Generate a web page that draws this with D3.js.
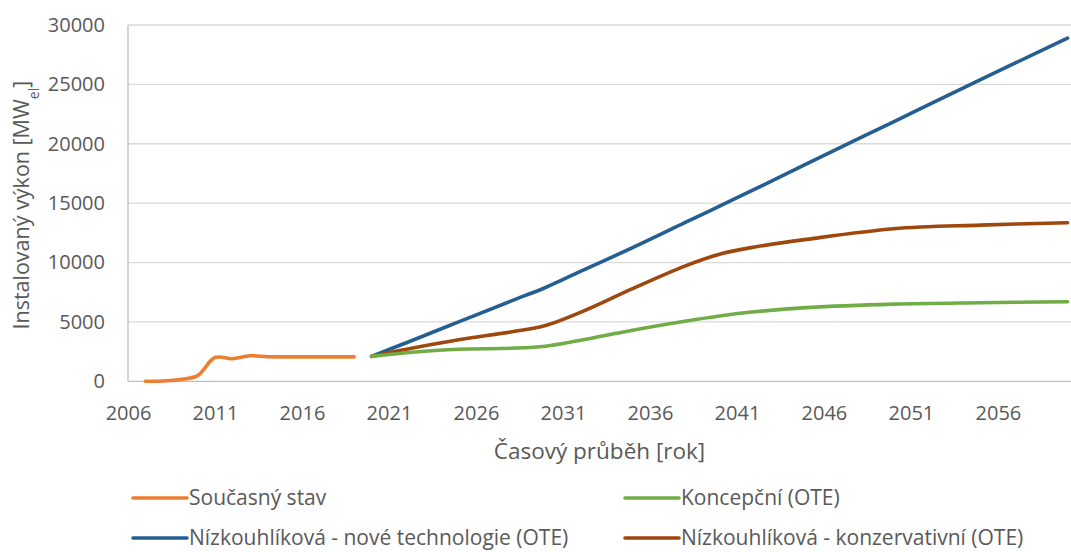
<!DOCTYPE html>
<html><head><meta charset="utf-8">
<script src="https://cdn.jsdelivr.net/npm/d3@7/dist/d3.min.js"></script>
<style>
body{margin:0;background:#fff;}
svg text{font-family:"Open Sans",Lato,sans-serif;fill:#595959;}
</style>
</head><body>
<svg id="chart" width="1071" height="552"></svg>
<script>
// ---- data ----
const histYears = [2007,2008,2009,2010,2011,2012,2013,2014,2015,2016,2017,2018,2019];
const histValues = [0,20,150,480,2000,1900,2150,2070,2060,2060,2060,2060,2060];

const scenYears = [2020,2022,2025,2028,2030,2032,2035,2038,2040,2042,2045,2050,2055,2060];
const newTechValues = [2100,3250,5000,6750,7900,9250,11250,13350,14750,16150,18300,21850,25400,28900];
const conservValues = [2100,2700,3500,4150,4700,5800,7800,9700,10700,11300,11950,12850,13150,13350];
const conceptValues = [2100,2400,2700,2780,2950,3450,4300,5050,5500,5850,6200,6500,6620,6700];

const xTickLabels = [2006,2011,2016,2021,2026,2031,2036,2041,2046,2051,2056];
const yTickValues = [0,5000,10000,15000,20000,25000,30000];

const seriesNames = ["Současný stav","Koncepční (OTE)","Nízkouhlíková - nové technologie (OTE)","Nízkouhlíková - konzervativní (OTE)"];
const seriesColors = ["#ED7D31","#70AD47","#255E91","#9E480E"];

const xTitle = "Časový průběh [rok]";
const yTitleMain = "Instalovaný výkon [MW";
const yTitleSub = "el";
const yTitleEnd = "]";

// ---- layout ----
const svg = d3.select("#chart");
const L = 128, R = 1071, T = 25, B = 381.3;
const x = d3.scaleLinear().domain([2006, 2060.2]).range([L, R]);
const y = d3.scaleLinear().domain([0, 30000]).range([B, T]);

// gridlines
svg.append("g").selectAll("line").data(yTickValues.filter(v => v > 0)).join("line")
  .attr("x1", L).attr("x2", R).attr("y1", d => y(d)).attr("y2", d => y(d))
  .attr("stroke", "#d9d9d9").attr("stroke-width", 1.3);

// axis lines
svg.append("line").attr("x1", L).attr("x2", L).attr("y1", T).attr("y2", B)
  .attr("stroke", "#bfbfbf").attr("stroke-width", 1.3);
svg.append("line").attr("x1", L).attr("x2", R).attr("y1", B).attr("y2", B)
  .attr("stroke", "#bfbfbf").attr("stroke-width", 1.3);

// y axis labels
const yAxis = d3.axisLeft(y).tickValues(yTickValues).tickSize(0).tickPadding(23).tickFormat(d3.format("d"));
const gy = svg.append("g").attr("transform", `translate(${L},0)`).call(yAxis);
gy.select(".domain").remove();
gy.selectAll("text").style("font-size", "20px").attr("font-family", null);

// x axis labels
const xAxis = d3.axisBottom(x).tickValues(xTickLabels).tickSize(0).tickPadding(0).tickFormat(d3.format("d"));
const gx = svg.append("g").attr("transform", `translate(0,${B})`).call(xAxis);
gx.select(".domain").remove();
gx.selectAll("text").style("font-size", "20px").attr("y", 39).attr("dy", 0).attr("font-family", null);

// titles
svg.append("text").attr("x", (L + R) / 2).attr("y", 459).attr("text-anchor", "middle")
  .style("font-size", "22.5px").text(xTitle);

const yt = svg.append("text").attr("transform", `translate(29,${(T + B) / 2 + 2}) rotate(-90)`)
  .attr("text-anchor", "middle").style("font-size", "21.5px");
yt.append("tspan").text(yTitleMain);
yt.append("tspan").attr("baseline-shift", "sub").style("font-size", "14px").text(yTitleSub);
yt.append("tspan").text(yTitleEnd);

// lines
const line = d3.line().x(d => x(d[0])).y(d => y(d[1])).curve(d3.curveCatmullRom.alpha(0.5));
const seriesData = [
  d3.zip(histYears, histValues),
  d3.zip(scenYears, conceptValues),
  d3.zip(scenYears, newTechValues),
  d3.zip(scenYears, conservValues)
];
const drawOrder = [0, 2, 3, 1];
drawOrder.forEach(i => {
  svg.append("path").datum(seriesData[i]).attr("d", line)
    .attr("fill", "none").attr("stroke", seriesColors[i]).attr("stroke-width", 3.6)
    .attr("stroke-linecap", "round").attr("stroke-linejoin", "round");
});

// legend
const legendPos = [[133, 498], [625, 498], [133, 538], [625, 538]];
seriesNames.forEach((name, i) => {
  const [lx, ly] = legendPos[i];
  svg.append("line").attr("x1", lx).attr("x2", lx + 54).attr("y1", ly).attr("y2", ly)
    .attr("stroke", seriesColors[i]).attr("stroke-width", 3.6).attr("stroke-linecap", "round");
  svg.append("text").attr("x", lx + 56).attr("y", ly).attr("dy", "0.35em")
    .style("font-size", "21px").text(name);
});
</script>
</body></html>
